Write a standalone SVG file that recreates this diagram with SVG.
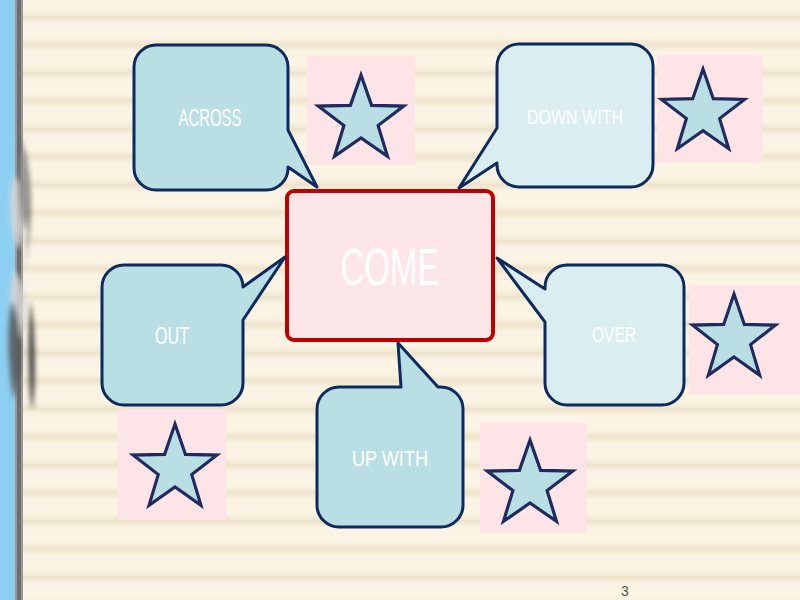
<svg xmlns="http://www.w3.org/2000/svg" width="800" height="600" viewBox="0 0 800 600">
<style>
.bubble{stroke:#0d2a5e;stroke-width:3;stroke-linejoin:round}
.dark{fill:#b9dfe4}
.light{fill:#daedf0}
.pink{fill:#fde4e6}
.star{fill:#b9dfe4;stroke:#1f2a5e;stroke-width:3.2;stroke-linejoin:miter}
.lbl{fill:#ffffff;font-family:"Liberation Sans Narrow","Liberation Sans",Arial,sans-serif;text-anchor:middle}
</style>
<defs>
<linearGradient id="stripeGrad" x1="0" y1="0" x2="0" y2="1">
<stop offset="0" stop-color="#fbf4e4"/>
<stop offset="0.35" stop-color="#fbf4e4"/>
<stop offset="0.6" stop-color="#eee4cd"/>
<stop offset="0.85" stop-color="#fbf4e4"/>
<stop offset="1" stop-color="#fbf4e4"/>
</linearGradient>
<pattern id="stripes" x="0" y="0" width="800" height="28" patternUnits="userSpaceOnUse">
<rect width="800" height="28" fill="url(#stripeGrad)"/>
</pattern>
<filter id="blur" x="-50%" y="-10%" width="200%" height="120%"><feGaussianBlur stdDeviation="2.5"/></filter>
<path id="starShape" d="M0,-45 L10.6,-14.6 L42.8,-13.9 L17.1,5.6 L26.5,36.4 L0,18 L-26.5,36.4 L-17.1,5.6 L-42.8,-13.9 L-10.6,-14.6 Z"/>
</defs>

<g id="background">
<rect width="800" height="600" fill="url(#stripes)"/>
<rect x="0" y="0" width="16" height="600" fill="#8dcff0"/>
<rect x="15" y="0" width="8" height="600" fill="#9a9a9a"/>
<rect x="17" y="0" width="4" height="600" fill="#6e6e6e"/>
<g filter="url(#blur)" opacity="0.85">
<path d="M20,135 C34,170 34,230 22,280 C30,250 28,190 20,135 Z" fill="#666666"/>
<path d="M14,175 C26,190 28,230 18,250 C8,230 8,195 14,175 Z" fill="#d8d8d8"/>
<path d="M14,270 C28,285 30,320 18,345 C8,325 8,290 14,270 Z" fill="#d8d8d8"/>
<path d="M12,300 C22,320 24,370 14,400 C8,370 6,330 12,300 Z" fill="#555555"/>
<path d="M30,300 C36,330 36,390 32,410 C28,390 28,330 30,300 Z" fill="#222222"/>
<path d="M22,150 C30,170 30,210 24,230 C18,210 18,170 22,150 Z" fill="#888888"/>
</g>
</g>

<g id="node-across">
<path class="bubble dark" d="M156,45 H266 A22,22 0 0 1 288,67 V130 L317,187 L288,167 A22,22 0 0 1 266,190 H156 A22,22 0 0 1 134,168 V67 A22,22 0 0 1 156,45 Z"/>
<text class="lbl" x="210" y="126" font-size="24" textLength="63" lengthAdjust="spacingAndGlyphs">ACROSS</text>
</g>

<g id="star-1">
<rect class="pink" x="307" y="56" width="108" height="109"/>
<use href="#starShape" class="star" transform="translate(361,120)"/>
</g>

<g id="node-downwith">
<path class="bubble light" d="M519,44 H631 A22,22 0 0 1 653,66 V165 A22,22 0 0 1 631,187 H519 A22,22 0 0 1 497,165 V163 L459,188 L497,128 V66 A22,22 0 0 1 519,44 Z"/>
<text class="lbl" x="575" y="124" font-size="21" textLength="96" lengthAdjust="spacingAndGlyphs">DOWN WITH</text>
</g>

<g id="star-2">
<rect class="pink" x="657" y="55" width="106" height="108"/>
<use href="#starShape" class="star" transform="translate(703,113) scale(0.97,0.98)"/>
</g>

<g id="node-come">
<rect x="287" y="191" width="206" height="149" rx="7" fill="#fde6e8" stroke="#c00000" stroke-width="4"/>
<text class="lbl" x="390" y="285" font-size="52" textLength="99" lengthAdjust="spacingAndGlyphs">COME</text>
</g>

<g id="node-out">
<path class="bubble dark" d="M124,265 H221 A22,22 0 0 1 243,287 L285,257 L243,320 V383 A22,22 0 0 1 221,405 H124 A22,22 0 0 1 102,383 V287 A22,22 0 0 1 124,265 Z"/>
<text class="lbl" x="172" y="344" font-size="23" textLength="34" lengthAdjust="spacingAndGlyphs">OUT</text>
</g>

<g id="node-over">
<path class="bubble light" d="M567,265 H662 A22,22 0 0 1 684,287 V383 A22,22 0 0 1 662,405 H567 A22,22 0 0 1 545,383 V322 L497,258 L545,289 V287 A22,22 0 0 1 567,265 Z"/>
<text class="lbl" x="614" y="342" font-size="22" textLength="44" lengthAdjust="spacingAndGlyphs">OVER</text>
</g>

<g id="star-3">
<rect class="pink" x="689" y="285" width="111" height="110"/>
<use href="#starShape" class="star" transform="translate(734,339) scale(0.97,1)"/>
</g>

<g id="node-upwith">
<path class="bubble dark" d="M339,387 H401 L398,343 L438,387 H441 A22,22 0 0 1 463,409 V505 A22,22 0 0 1 441,527 H339 A22,22 0 0 1 317,505 V409 A22,22 0 0 1 339,387 Z"/>
<text class="lbl" x="390" y="466" font-size="22" textLength="76" lengthAdjust="spacingAndGlyphs">UP WITH</text>
</g>

<g id="star-4">
<rect class="pink" x="480" y="423" width="107" height="110"/>
<use href="#starShape" class="star" transform="translate(530,485)"/>
</g>

<g id="star-5">
<rect class="pink" x="118" y="410" width="108" height="110"/>
<use href="#starShape" class="star" transform="translate(175,469) scale(0.98,1)"/>
</g>

<g id="connectors"></g>

<text x="625" y="596" font-family="Liberation Sans, Arial, sans-serif" font-size="14" fill="#555555" text-anchor="middle">3</text>
</svg>
